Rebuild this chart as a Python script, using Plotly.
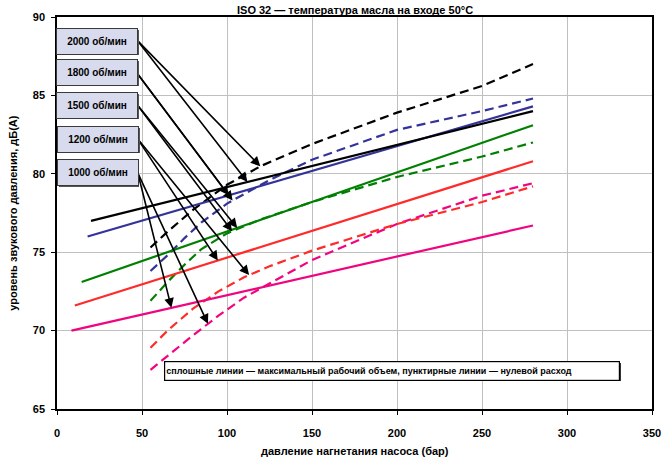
import numpy as np
import plotly.graph_objects as go

# ---------------- data ----------------
speeds = ["2000 об/мин", "1800 об/мин", "1500 об/мин", "1200 об/мин", "1000 об/мин"]
colors = ["#000000", "#333399", "#008000", "#FF2A2A", "#F0047F"]

# solid lines: max displacement
solid_x_2000 = [20, 280]
solid_y_2000 = [77.0, 84.0]
solid_x_1800 = [18, 280]
solid_y_1800 = [76.0, 84.3]
solid_x_1500 = [14.5, 280]
solid_y_1500 = [73.1, 83.1]
solid_x_1200 = [10.5, 280]
solid_y_1200 = [71.6, 80.8]
solid_x_1000 = [8.5, 280]
solid_y_1000 = [70.0, 76.7]

# dashed lines: zero flow
dash_x_2000 = [55, 65, 80, 100, 120, 150, 200, 250, 280]
dash_y_2000 = [75.3, 76.3, 77.7, 79.3, 80.5, 81.9, 83.9, 85.6, 87.0]
dash_x_1800 = [55, 65, 75, 85, 100, 125, 150, 200, 250, 280]
dash_y_1800 = [73.8, 74.8, 75.9, 76.9, 78.1, 79.6, 80.9, 82.8, 84.0, 84.8]
dash_x_1500 = [55, 65, 75, 85, 100, 120, 150, 200, 250, 280]
dash_y_1500 = [71.9, 73.1, 74.2, 75.2, 76.2, 77.1, 78.2, 79.8, 81.1, 82.0]
dash_x_1200 = [55, 65, 80, 95, 110, 125, 150, 200, 250, 280]
dash_y_1200 = [68.9, 70.0, 71.4, 72.5, 73.4, 74.1, 75.1, 76.8, 78.2, 79.2]
dash_x_1000 = [55, 65, 80, 95, 110, 125, 150, 200, 250, 280]
dash_y_1000 = [67.5, 68.4, 69.7, 70.95, 72.1, 73.0, 74.5, 76.8, 78.6, 79.4]

# arrow targets (x position along each curve)
arrow_solid_x = [112, 101, 106, 94.6, 67.3]
arrow_dash_x = [119.6, 103.3, 103, 113, 88.8]

x_ticks = [0, 50, 100, 150, 200, 250, 300, 350]
y_ticks = [65, 70, 75, 80, 85, 90]

title_text = "ISO 32 — температура масла на входе 50°C"
x_title = "давление нагнетания насоса (бар)"
y_title = "уровень звукового давления, дБ(A)"
note_text = "сплошные линии — максимальный рабочий объем, пунктирные линии — нулевой расход"

solids = [(solid_x_2000, solid_y_2000), (solid_x_1800, solid_y_1800), (solid_x_1500, solid_y_1500),
          (solid_x_1200, solid_y_1200), (solid_x_1000, solid_y_1000)]
dashes = [(dash_x_2000, dash_y_2000), (dash_x_1800, dash_y_1800), (dash_x_1500, dash_y_1500),
          (dash_x_1200, dash_y_1200), (dash_x_1000, dash_y_1000)]

# ---------------- layout geometry ----------------
W, H = 672, 459
ML, MR, MT, MB = 57, 11, 14, 50
PW, PH = W - ML - MR, H - MT - MB
XMIN, XMAX, YMIN, YMAX = 0, 350, 65, 90

def px2x(px):
    return XMIN + (px - ML) / PW * (XMAX - XMIN)

def py2y(py):
    return YMAX - (py - MT) / PH * (YMAX - YMIN)

def px2paper(px):
    return (px - ML) / PW

def py2paper(py):
    return (H - MB - py) / PH

FONT = "Liberation Sans, Arial, sans-serif"

fig = go.Figure()

for i in range(len(speeds) - 1, -1, -1):
    dx, dy = dashes[i]
    fig.add_trace(go.Scatter(x=dx, y=dy, mode="lines", name=speeds[i] + " (0)",
                             line=dict(color=colors[i], width=2.2, dash="9px,5px")))
for i in range(len(speeds) - 1, -1, -1):
    sx, sy = solids[i]
    fig.add_trace(go.Scatter(x=sx, y=sy, mode="lines", name=speeds[i],
                             line=dict(color=colors[i], width=2.2)))

annotations = []

# label boxes (pixel centres)
box_cx = [98, 98, 98, 99, 98.5]
box_cy = [38.5, 70, 103, 137, 171]
tail_px = [138, 137, 138, 139, 139]
tail_py = [37, 69, 102, 137, 171]

for i, lab in enumerate(speeds):
    sx, sy = solids[i]
    dx, dy = dashes[i]
    for tx, (cx, cy) in ((arrow_solid_x[i], (sx, sy)), (arrow_dash_x[i], (dx, dy))):
        ty = float(np.interp(tx, cx, cy))
        annotations.append(dict(x=tx, y=ty, xref="x", yref="y",
                                ax=px2x(tail_px[i]), ay=py2y(tail_py[i]), axref="x", ayref="y",
                                text="", showarrow=True, arrowhead=2, arrowsize=1.2,
                                arrowwidth=1.6, arrowcolor="#000000", standoff=0))

for i, lab in enumerate(speeds):
    annotations.append(dict(x=px2paper(box_cx[i]), y=py2paper(box_cy[i]), xref="paper", yref="paper",
                            xshift=1.2, yshift=-1.2, text="", showarrow=False, width=80, height=25,
                            bgcolor="#555555", borderwidth=0, borderpad=0,
                            xanchor="center", yanchor="middle"))
    annotations.append(dict(x=px2paper(box_cx[i]), y=py2paper(box_cy[i]), xref="paper", yref="paper",
                            text="<b>" + lab + "</b>", showarrow=False, width=80, height=25,
                            bgcolor="#D8DBEE", bordercolor="#3a3a3a", borderwidth=1, borderpad=0,
                            font=dict(family=FONT, size=10, color="#000000"),
                            xanchor="center", yanchor="middle"))

# note box
annotations.append(dict(x=px2paper(397), y=py2paper(370.5), xref="paper", yref="paper",
                        xshift=1.2, yshift=-1.2, text="", showarrow=False, width=456, height=18,
                        bgcolor="#333333", borderwidth=0, borderpad=0,
                        xanchor="center", yanchor="middle"))
annotations.append(dict(x=px2paper(397), y=py2paper(370.5), xref="paper", yref="paper",
                        text="<b>" + note_text + "</b>", showarrow=False, width=452, height=16,
                        align="left", bgcolor="#FFFFFF", bordercolor="#000000", borderwidth=1.2,
                        borderpad=1, font=dict(family=FONT, size=9, color="#000000"),
                        xanchor="center", yanchor="middle"))

# titles
annotations.append(dict(x=px2paper(360), y=py2paper(6.5), xref="paper", yref="paper",
                        text="<b>" + title_text + "</b>", showarrow=False,
                        font=dict(family=FONT, size=11, color="#000000"),
                        xanchor="center", yanchor="middle"))
annotations.append(dict(x=px2paper(360), y=py2paper(451), xref="paper", yref="paper",
                        text="<b>" + x_title + "</b>", showarrow=False,
                        font=dict(family=FONT, size=11, color="#000000"),
                        xanchor="center", yanchor="middle"))
annotations.append(dict(x=px2paper(12), y=0.5, xref="paper", yref="paper",
                        text="<b>" + y_title + "</b>", showarrow=False, textangle=-90,
                        font=dict(family=FONT, size=11, color="#000000"),
                        xanchor="center", yanchor="middle"))

axis_common = dict(showgrid=True, gridcolor="#C0C0C0", gridwidth=1, zeroline=False,
                   showline=True, linecolor="#000000", linewidth=1.5, mirror=True,
                   ticks="outside", ticklen=4, tickcolor="#000000", tickwidth=1,
                   tickfont=dict(family=FONT, size=11, color="#000000", weight="bold"))

fig.update_layout(
    width=W, height=H,
    margin=dict(l=ML, r=MR, t=MT, b=MB),
    paper_bgcolor="#FFFFFF", plot_bgcolor="#FFFFFF",
    showlegend=False,
    xaxis=dict(range=[XMIN, XMAX], tickvals=x_ticks, ticklabelstandoff=9, **axis_common),
    yaxis=dict(range=[YMIN, YMAX], tickvals=y_ticks, ticklabelstandoff=4, **axis_common),
    annotations=annotations,
)

fig.write_html("out.html", config={"displayModeBar": False},
               post_script="document.body.style.margin='0';document.body.style.overflow='hidden';")
